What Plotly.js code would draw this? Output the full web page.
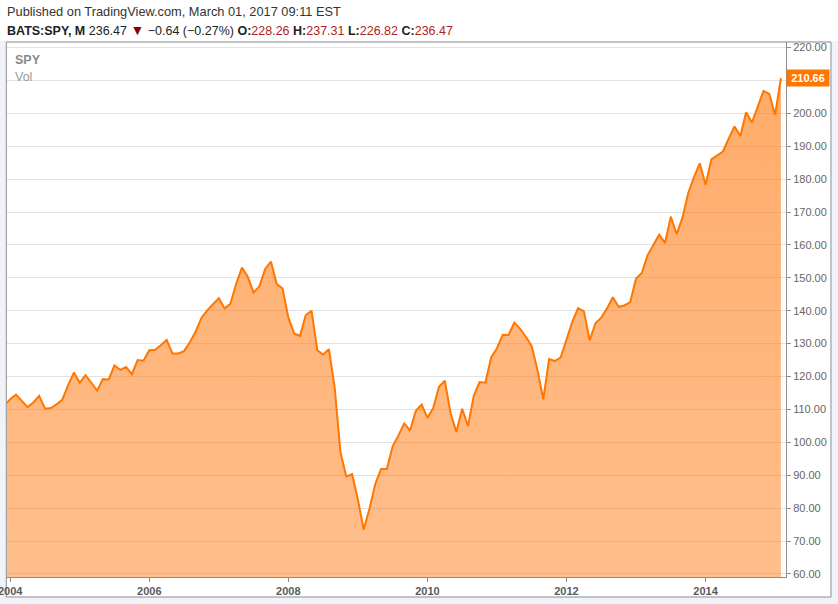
<!DOCTYPE html>
<html>
<head>
<meta charset="utf-8">
<script src="https://cdn.plot.ly/plotly-3.0.1.min.js"></script>
<style>
html,body{margin:0;padding:0;background:#f0f3f7;}
#chart{width:838px;height:604px;}
</style>
</head>
<body>
<div id="chart"></div>
<script>
// Monthly closes of SPY, Dec 2003 .. Feb 2015
const months = [
 "2003-12",
 "2004-01","2004-02","2004-03","2004-04","2004-05","2004-06","2004-07","2004-08","2004-09","2004-10","2004-11","2004-12",
 "2005-01","2005-02","2005-03","2005-04","2005-05","2005-06","2005-07","2005-08","2005-09","2005-10","2005-11","2005-12",
 "2006-01","2006-02","2006-03","2006-04","2006-05","2006-06","2006-07","2006-08","2006-09","2006-10","2006-11","2006-12",
 "2007-01","2007-02","2007-03","2007-04","2007-05","2007-06","2007-07","2007-08","2007-09","2007-10","2007-11","2007-12",
 "2008-01","2008-02","2008-03","2008-04","2008-05","2008-06","2008-07","2008-08","2008-09","2008-10","2008-11","2008-12",
 "2009-01","2009-02","2009-03","2009-04","2009-05","2009-06","2009-07","2009-08","2009-09","2009-10","2009-11","2009-12",
 "2010-01","2010-02","2010-03","2010-04","2010-05","2010-06","2010-07","2010-08","2010-09","2010-10","2010-11","2010-12",
 "2011-01","2011-02","2011-03","2011-04","2011-05","2011-06","2011-07","2011-08","2011-09","2011-10","2011-11","2011-12",
 "2012-01","2012-02","2012-03","2012-04","2012-05","2012-06","2012-07","2012-08","2012-09","2012-10","2012-11","2012-12",
 "2013-01","2013-02","2013-03","2013-04","2013-05","2013-06","2013-07","2013-08","2013-09","2013-10","2013-11","2013-12",
 "2014-01","2014-02","2014-03","2014-04","2014-05","2014-06","2014-07","2014-08","2014-09","2014-10","2014-11","2014-12",
 "2015-01","2015-02"
];
const closes = [
 111.2,
 113.1,114.5,112.6,110.7,112.1,114.1,110.2,110.4,111.5,113.0,117.4,121.2,
 118.1,120.4,118.1,115.7,119.2,119.1,123.4,122.0,122.9,120.7,125.0,124.8,
 128.0,128.1,129.5,131.1,127.0,127.0,127.7,130.4,133.6,137.8,140.1,141.8,
 143.8,140.7,142.1,148.2,153.1,150.3,145.5,147.4,152.7,154.9,148.1,146.8,
 137.9,133.1,132.3,138.6,140.0,128.0,126.7,128.3,116.6,96.9,89.6,90.3,
 82.6,73.5,79.8,87.3,91.9,91.9,98.8,102.1,105.7,103.6,109.6,111.5,
 107.4,110.4,116.9,118.7,108.9,103.1,110.2,104.9,114.1,118.3,118.1,125.8,
 128.6,132.7,132.6,136.4,134.5,132.1,129.2,121.9,113.1,125.3,124.7,125.8,
 131.2,136.6,140.8,139.8,131.0,136.2,137.9,140.7,144.1,141.2,141.6,142.6,
 149.8,151.5,156.9,159.8,163.1,160.6,168.6,163.3,168.2,175.7,180.6,184.8,
 178.3,186.0,187.2,188.4,192.4,196.0,193.1,200.3,197.2,201.8,206.8,205.9,
 199.5,210.66
];
const yearTicks = ["2004","2006","2008","2010","2012","2014"];
const priceTicks = [60,70,80,90,100,110,120,130,140,150,160,170,180,190,200,210,220];
const lastPrice = 210.66;

// month index relative to Jan 2004
const xIdx = months.map(m => { const [y, mo] = m.split("-").map(Number); return (y - 2004) * 12 + (mo - 1); });
const tickVals = yearTicks.map(y => (Number(y) - 2004) * 12);
// the price label box hides the tick label next to it
const priceTickText = priceTicks.map(v => Math.abs(v - lastPrice) < 5 ? "" : v.toFixed(2));

const L = 6.7, T = 42, PW = 779.3, PH = 535;
const px = v => (v - L) / PW;
const py = v => (T + PH - v) / PH;

const trace = {
  x: xIdx, y: closes, type: "scatter", mode: "lines",
  line: {color: "#ff7600", width: 2},
  fill: "tozeroy",
  fillgradient: {type: "vertical", start: 59, stop: 222,
    colorscale: [[0, "rgba(255,118,10,0.47)"], [1, "rgba(255,118,10,0.62)"]]},
  hoverinfo: "skip"
};

const layout = {
  width: 838, height: 604,
  margin: {l: 7, r: 52, t: 42, b: 27, pad: 0},
  paper_bgcolor: "#f0f3f7",
  plot_bgcolor: "rgba(0,0,0,0)",
  showlegend: false,
  font: {family: "Liberation Sans, Arial, sans-serif", size: 11, color: "#555"},
  xaxis: {
    range: [-0.55, 133.88], tickvals: tickVals, ticktext: yearTicks,
    showgrid: false, zeroline: false, showline: true, linecolor: "#8c8c8c", linewidth: 1,
    ticks: "outside", ticklen: 4, tickcolor: "#8c8c8c", ticklabeloverflow: "allow",
    tickfont: {family: "Liberation Sans, Arial, sans-serif", size: 11, color: "#5a5a5a", weight: "bold"}
  },
  yaxis: {
    side: "right", range: [59.06, 221.67], tickvals: priceTicks, ticktext: priceTickText,
    showgrid: true, gridcolor: "#e2e2e2", gridwidth: 1, zeroline: false,
    showline: true, linecolor: "#8c8c8c", linewidth: 1,
    ticks: "outside", ticklen: 4, tickcolor: "#8c8c8c",
    tickfont: {family: "Liberation Sans, Arial, sans-serif", size: 11, color: "#666"}
  },
  shapes: [
    {type: "rect", xref: "paper", yref: "paper", layer: "below",
     x0: px(6), x1: px(831), y0: py(597), y1: py(42),
     fillcolor: "#ffffff", line: {color: "#8c8c8c", width: 1}},
    {type: "rect", xref: "paper", yref: "paper", layer: "below",
     x0: px(0), x1: px(838), y0: py(41), y1: py(0),
     fillcolor: "#ffffff", line: {width: 0}}
  ],
  annotations: [
    {xref: "paper", yref: "paper", x: px(5), y: py(12), xanchor: "left", yanchor: "middle", showarrow: false,
     text: "Published on TradingView.com, March 01, 2017 09:11 EST",
     font: {family: "Liberation Sans, Arial, sans-serif", size: 12.8, color: "#333"}},
    {xref: "paper", yref: "paper", x: px(5), y: py(30), xanchor: "left", yanchor: "middle", showarrow: false,
     text: "<b>BATS:SPY, M</b> 236.47 <span style='color:#8b0000;font-size:14px'>▼</span> −0.64 (−0.27%) <b>O:</b><span style='color:#b22222'>228.26</span> <b>H:</b><span style='color:#b22222'>237.31</span> <b>L:</b><span style='color:#b22222'>226.82</span> <b>C:</b><span style='color:#b22222'>236.47</span>",
     font: {family: "Liberation Sans, Arial, sans-serif", size: 12.5, color: "#222"}},
    {xref: "paper", yref: "paper", x: px(13), y: py(60), xanchor: "left", yanchor: "middle", showarrow: false,
     text: "<b>SPY</b>", font: {size: 12.5, color: "#8a8a8a"}},
    {xref: "paper", yref: "paper", x: px(13), y: py(77), xanchor: "left", yanchor: "middle", showarrow: false,
     text: "Vol", font: {size: 12.5, color: "#9a9a9a"}},
    {xref: "paper", yref: "y", x: 1, y: lastPrice, xanchor: "left", yanchor: "middle", showarrow: false,
     text: "<b>" + lastPrice.toFixed(2) + "</b>", bgcolor: "#ff7600", borderpad: 2, width: 38, height: 12,
     font: {size: 11, color: "#ffffff"}}
  ]
};

Plotly.newPlot("chart", [trace], layout, {staticPlot: true, displayModeBar: false});
</script>
</body>
</html>
